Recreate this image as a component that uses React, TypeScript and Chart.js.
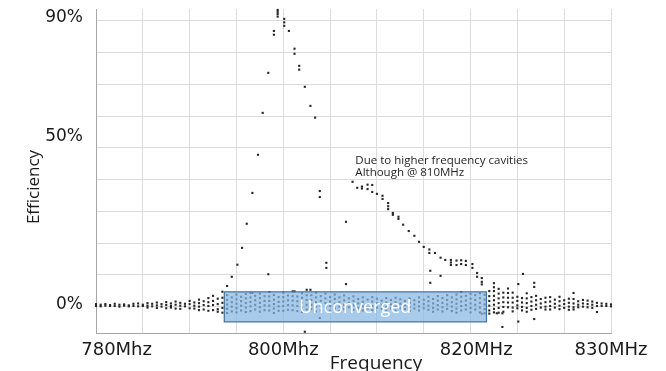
import { useEffect, useRef } from 'react';
import { Chart, registerables } from 'chart.js';

Chart.register(...registerables);

type Column = [number, number[]];

// Sweep readings: [frequency in MHz, efficiency readings in %]
const lowBandSweep: Column[] = [
  [780, [0.8, 0.2]], [780.5, [0.6, 0.1]], [781, [0.8, 0.3]], [781.5, [0.5, 0.2]],
  [782, [0.9, 0.2]], [782.5, [0.6, 0.0]], [783, [0.7, 0.3]], [783.5, [0.4, 0.1]],
  [784, [0.9, 0.2]], [784.5, [1.0, 0.1]], [785, [0.6, 0.2]], [785.5, [1.1, 0.3, -0.3]],
  [786, [0.9, 0.1]], [786.5, [1.3, 0.4, -0.4]], [787, [0.8, 0.0]], [787.5, [1.4, 0.5, -0.5]],
  [788, [1.0, 0.2, -0.3]],
];

const rampSweep: Column[] = [
  [788.5, [1.6, 0.6, -0.6]], [789, [1.2, 0.3, -0.7]], [789.5, [0.9, 0.1]],
  [790, [1.8, 0.8, -0.5]], [790.5, [1.3, 0.3, -0.6]], [791, [2.2, 1.1, 0.0, -1.1]],
  [791.5, [1.7, 0.5, -0.9]], [792, [2.7, 1.4, 0.2, -1.3]], [792.5, [3.4, 1.8, 0.5, -1.1]],
  [793, [2.5, 0.8, -0.8, -1.6]], [793.5, [4.7, 2.8, 1.2, -0.4, -1.9]],
];

const unconvergedSweep: Column[] = [
  [794, [3.6, 2.1, 0.7, -0.7, -2.0]], [794.5, [2.9, 1.4, 0.0, -1.5]],
  [795, [3.8, 2.3, 0.9, -0.5, -1.8]], [795.5, [3.1, 1.7, 0.3, -1.2]],
  [796, [4.0, 2.6, 1.1, -0.3, -1.7]], [796.5, [4.3, 2.9, 1.5, 0.1, -1.4]],
  [797, [3.4, 2.0, 0.6, -0.9]], [797.5, [4.1, 2.7, 1.2, -0.2, -1.6]],
  [798, [3.3, 1.8, 0.4, -1.1]], [798.5, [4.6, 3.2, 1.8, 0.3, -1.2]],
  [799, [3.7, 2.2, 0.8, -0.6, -2.0]], [799.5, [3.0, 1.5, 0.1, -1.3]],
  [800, [4.4, 3.0, 1.6, 0.2, -1.3]], [800.5, [3.5, 2.0, 0.5, -1.0]],
  [801, [4.8, 3.3, 1.9, 0.4, -1.1]], [801.5, [3.2, 1.7, 0.2, -1.4]],
  [802, [4.2, 2.8, 1.3, -0.2, -1.7]], [802.5, [5.3, 3.6, 2.1, 0.6, -0.9]],
  [803, [3.6, 2.1, 0.6, -0.8]], [803.5, [4.4, 2.9, 1.4, 0.0, -1.5]],
  [804, [3.3, 1.8, 0.3, -1.2]], [804.5, [4.1, 2.6, 1.1, -0.4]],
  [805, [3.0, 1.6, 0.2, -1.3]], [805.5, [3.8, 2.4, 0.9, -0.6]],
  [806, [2.9, 1.4, 0.0, -1.4]], [806.5, [3.5, 2.0, 0.6, -0.8]],
  [807, [2.6, 1.2, -0.2]], [807.5, [3.2, 1.8, 0.4, -1.0]],
  [808, [2.4, 1.0, -0.4]], [808.5, [2.9, 1.5, 0.1, -1.2]],
  [809, [2.2, 0.8, -0.6]], [809.5, [3.0, 1.6, 0.2, -1.1]],
  [810, [2.5, 1.1, -0.3]], [810.5, [1.9, 0.6, -0.7]],
  [811, [2.7, 1.3, -0.1, -1.3]], [811.5, [2.1, 0.7, -0.6]],
  [812, [2.8, 1.4, 0.0, -1.2]], [812.5, [2.3, 0.9, -0.5]],
  [813, [1.8, 0.5, -0.8]], [813.5, [2.6, 1.2, -0.2, -1.4]],
  [814, [2.0, 0.7, -0.6]], [814.5, [2.9, 1.5, 0.1, -1.2]],
  [815, [2.2, 0.8, -0.5]], [815.5, [3.1, 1.7, 0.3, -1.0]],
  [816, [2.4, 1.0, -0.4, -1.6]], [816.5, [3.3, 1.9, 0.5, -0.9]],
  [817, [2.7, 1.2, -0.2, -1.5]], [817.5, [3.6, 2.1, 0.7, -0.7]],
  [818, [2.9, 1.4, 0.0, -1.4]], [818.5, [3.8, 2.3, 0.9, -0.6, -1.9]],
  [819, [4.6, 3.1, 1.6, 0.2, -1.2]], [819.5, [3.4, 1.9, 0.5, -0.9]],
  [820, [4.0, 2.5, 1.0, -0.4, -1.8]], [820.5, [3.6, 2.1, 0.6, -0.9]],
  [821, [4.2, 2.7, 1.2, -0.3, -1.8]], [821.5, [3.7, 2.2, 0.7, -0.8, -2.1]],
];

const upperSweep: Column[] = [
  [822, [4.9, 3.3, 1.8, 0.3, -1.2, -2.2]],
  [822.5, [7.4, 6.1, 4.9, 3.4, 2.0, 0.6, -0.7, -1.8]],
  [823, [5.6, 4.1, 2.6, 1.1, -0.4, -1.9]], [823.5, [4.4, 2.9, 1.4, -0.1, -1.6]],
  [824, [5.7, 4.3, 2.8, 1.3, -0.2]], [824.5, [4.4, 2.8, 1.3, -0.3, -1.5]],
  [825, [3.1, 1.8, 0.4, -0.5]], [825.5, [2.7, 1.3, -0.1, -1.2]],
  [826, [4.2, 2.6, 1.1, -0.4, -1.6]], [826.5, [3.0, 1.6, 0.2, -1.0]],
  [827, [3.4, 2.0, 0.6, -0.7]], [827.5, [2.4, 1.0, -0.3]],
  [828, [2.8, 1.4, 0.0, -0.9]],
];

const tailSweep: Column[] = [
  [828.5, [3.0, 1.6, 0.2, -0.9]], [829, [2.2, 0.9, -0.3]], [829.5, [3.1, 1.7, 0.3, -0.8]],
  [830, [2.0, 0.8, -0.4]], [830.5, [2.5, 1.2, 0.0, -1.0]], [831, [4.3, 2.4, 1.0, -0.2, -0.9]],
  [831.5, [1.7, 0.6, -0.2]], [832, [2.1, 1.0, 0.0]], [832.5, [1.9, 0.8, -0.2]],
  [833, [1.6, 0.6, -0.4]], [833.5, [1.2, 0.2, -1.7]], [834, [1.0, 0.2]],
  [834.5, [0.9, 0.2]], [835, [0.7, 0.1]],
];

// Main resonance around 800 MHz
const mainResonanceMHz = [
  794.0, 794.5, 795.1, 795.6, 796.1, 796.7, 797.3, 797.8, 798.4, 799.0, 799.0,
  799.4, 799.4, 799.4, 799.4, 800.1, 800.1, 800.1, 800.6, 801.2, 801.2, 801.7, 801.7,
  802.3, 802.9, 803.4, 803.9, 803.9, 804.6, 804.6,
];
const mainResonanceEff = [
  6.5, 9.4, 13.2, 18.5, 26.1, 35.8, 47.8, 61.0, 73.6, 86.8, 85.6,
  93.4, 92.8, 92.1, 91.3, 90.6, 89.5, 88.4, 86.8, 81.2, 79.6, 75.8, 74.6,
  69.2, 63.2, 59.5, 36.4, 34.5, 13.8, 12.2,
];

// Higher frequency cavity response
const cavityResonanceMHz = [
  807.4, 807.9, 808.4, 808.4, 809.0, 809.0, 809.5, 809.5, 810.0, 810.6, 810.6,
  811.2, 811.2, 811.2, 811.7, 811.7, 812.3, 812.3, 812.8, 813.4, 814.0, 814.5,
  815.0, 815.6, 815.6, 816.2, 816.8, 817.3, 817.9, 817.9, 817.9, 818.5, 818.5,
  819.0, 819.0, 819.5, 819.5, 820.2, 820.2, 820.7, 820.7, 821.2, 821.2, 821.2,
];
const cavityResonanceEff = [
  39.3, 37.4, 37.8, 37.2, 38.4, 37.0, 38.3, 36.1, 35.5, 34.9, 33.9,
  32.6, 31.6, 30.7, 29.5, 28.9, 28.3, 27.6, 25.8, 23.8, 22.3, 20.4,
  18.8, 18.0, 16.9, 16.9, 15.4, 14.7, 14.7, 13.9, 13.1, 14.5, 13.1,
  14.6, 13.4, 14.4, 13.1, 13.4, 12.2, 10.6, 9.4, 9.0, 7.8, 7.0,
];

// Isolated readings
const strayMHz = [
  806.7, 806.7, 798.4, 815.7, 815.7, 816.8, 803.9, 802.3, 802.9, 801.2, 796.7,
  825.6, 825.1, 826.8, 826.8, 823.4, 825.1, 826.8, 821.2, 822.8, 823.4,
];
const strayEff = [
  26.7, 7.1, 10.2, 11.3, 7.5, 9.7, -3.6, -7.9, 5.3, 4.8, 4.3,
  10.3, 7.1, 7.5, 6.2, -6.4, -4.7, -3.9, -2.2, -2.1, -2.1,
];

// Axes
const xGridMHz = [780, 785, 790, 795, 800, 805, 810, 815, 820, 825, 830, 835];
const xTickLabels: [number, string][] = [
  [782.2, '780Mhz'], [800, '800Mhz'], [820.6, '820MHz'], [835, '830MHz'],
];
const yGridEff = [0, 10, 20, 30, 40, 50, 60, 70, 80, 90];
const yTickLabels: [number, string][] = [[0.7, '0%'], [53.5, '50%'], [91.1, '90%']];

const unconvergedBand = { fromMHz: 793.7, toMHz: 821.7, low: -4.8, high: 4.65, text: 'Unconverged' };
const noteLines = ['Due to higher frequency cavities', 'Although @ 810MHz'];
const noteAnchor = { mhz: 807.7, eff: 45.9 };

const toPoints = (xs: number[], ys: number[]) => xs.map((x, i) => ({ x, y: ys[i] }));
const sweepPoints = (cols: Column[]) =>
  cols.flatMap(([f, vals]) => vals.map((v) => ({ x: f, y: v })));

const INK = '#262626';

const overlayPlugin = {
  id: 'overlay',
  afterDatasetsDraw(chart: any) {
    const { ctx } = chart;
    const x = chart.scales.x;
    const y = chart.scales.y;
    const b = unconvergedBand;
    const left = x.getPixelForValue(b.fromMHz);
    const right = x.getPixelForValue(b.toMHz);
    const top = y.getPixelForValue(b.high);
    const bottom = y.getPixelForValue(b.low);

    ctx.save();
    ctx.fillStyle = 'rgba(135,183,228,0.72)';
    ctx.fillRect(left, top, right - left, bottom - top);
    ctx.strokeStyle = '#41719c';
    ctx.lineWidth = 1.2;
    ctx.strokeRect(left, top, right - left, bottom - top);
    ctx.fillStyle = '#ffffff';
    ctx.font = '18px "Open Sans"';
    ctx.textAlign = 'center';
    ctx.textBaseline = 'middle';
    ctx.fillText(b.text, (left + right) / 2, (top + bottom) / 2 + 1);

    ctx.fillStyle = '#1f1f1f';
    ctx.font = '11.5px "Open Sans"';
    ctx.textAlign = 'left';
    const nx = x.getPixelForValue(noteAnchor.mhz);
    const ny = y.getPixelForValue(noteAnchor.eff);
    noteLines.forEach((t, i) => ctx.fillText(t, nx, ny + i * 12));

    ctx.fillStyle = '#1a1a1a';
    ctx.font = '19px "Open Sans"';
    ctx.textAlign = 'center';
    ctx.textBaseline = 'alphabetic';
    ctx.fillText('Frequency', 376, 369);
    ctx.restore();

    ctx.save();
    ctx.fillStyle = '#1a1a1a';
    ctx.font = '17px "Open Sans"';
    ctx.textAlign = 'center';
    ctx.textBaseline = 'middle';
    ctx.translate(34, 187);
    ctx.rotate(-Math.PI / 2);
    ctx.fillText('Efficiency', 0, 0);
    ctx.restore();
  },
};

const labelFor = (list: [number, string][], v: number) => {
  const hit = list.find(([p]) => Math.abs(p - v) < 1e-6);
  return hit ? hit[1] : '';
};

export default function App() {
  const canvasRef = useRef<HTMLCanvasElement | null>(null);

  useEffect(() => {
    let chart: Chart | null = null;
    let cancelled = false;
    const build = () => {
      if (cancelled || !canvasRef.current) return;
      const dotStyle = {
        pointStyle: 'rect' as const,
        pointRadius: 1.5,
        pointBackgroundColor: INK,
        pointBorderWidth: 0,
        showLine: false,
        clip: false as const,
      };
      chart = new Chart(canvasRef.current, {
        type: 'scatter',
        data: {
          datasets: [
            { label: 'sweep', data: sweepPoints([...lowBandSweep, ...rampSweep, ...unconvergedSweep, ...upperSweep, ...tailSweep]), ...dotStyle },
            { label: 'main', data: toPoints(mainResonanceMHz, mainResonanceEff), ...dotStyle },
            { label: 'cavity', data: toPoints(cavityResonanceMHz, cavityResonanceEff), ...dotStyle },
            { label: 'stray', data: toPoints(strayMHz, strayEff), ...dotStyle },
          ],
        },
        options: {
          animation: false,
          responsive: true,
          maintainAspectRatio: false,
          events: [],
          layout: { padding: { top: 9, right: 55, left: 0, bottom: 0 } },
          plugins: { legend: { display: false }, tooltip: { enabled: false } },
          scales: {
            x: {
              type: 'linear',
              min: 780,
              max: 835,
              afterFit: (s: any) => {
                s.height = 38;
                s.paddingLeft = 0;
                s.paddingRight = 0;
              },
              afterBuildTicks: (s: any) => {
                const vals = [...xGridMHz, ...xTickLabels.map(([v]) => v)];
                s.ticks = Array.from(new Set(vals)).sort((a, b) => a - b).map((value) => ({ value }));
              },
              grid: {
                drawTicks: false,
                color: (c: any) => (c.tick && xGridMHz.includes(c.tick.value) ? '#dcdcdc' : 'rgba(0,0,0,0)'),
              },
              border: { color: '#a6a6a6' },
              ticks: {
                autoSkip: false,
                maxRotation: 0,
                padding: 7,
                color: '#1a1a1a',
                font: { family: '"DejaVu Sans"', size: 18 },
                callback: (v: any) => labelFor(xTickLabels, Number(v)),
              },
            },
            y: {
              type: 'linear',
              min: -8.3,
              max: 93.7,
              afterFit: (s: any) => {
                s.width = 96;
                s.paddingTop = 0;
                s.paddingBottom = 0;
              },
              afterBuildTicks: (s: any) => {
                const vals = [...yGridEff, ...yTickLabels.map(([v]) => v)];
                s.ticks = vals.sort((a, b) => a - b).map((value) => ({ value }));
              },
              grid: {
                drawTicks: false,
                color: (c: any) => (c.tick && yGridEff.includes(c.tick.value) ? '#dcdcdc' : 'rgba(0,0,0,0)'),
              },
              border: { color: '#a6a6a6' },
              ticks: {
                autoSkip: false,
                padding: 13,
                color: '#1a1a1a',
                font: { family: '"DejaVu Sans"', size: 17 },
                callback: (v: any) => labelFor(yTickLabels, Number(v)),
              },
            },
          },
        },
        plugins: [overlayPlugin],
      });
    };
    const fonts = (document as any).fonts;
    if (fonts && fonts.load) {
      Promise.all([
        fonts.load('18px "Open Sans"'),
        fonts.load('18px "DejaVu Sans"'),
      ]).then(build, build);
    } else {
      build();
    }
    return () => {
      cancelled = true;
      if (chart) chart.destroy();
    };
  }, []);

  return (
    <div style={{ position: 'absolute', left: 0, top: 0, width: 666, height: 371, background: '#ffffff' }}>
      <canvas ref={canvasRef} />
    </div>
  );
}
